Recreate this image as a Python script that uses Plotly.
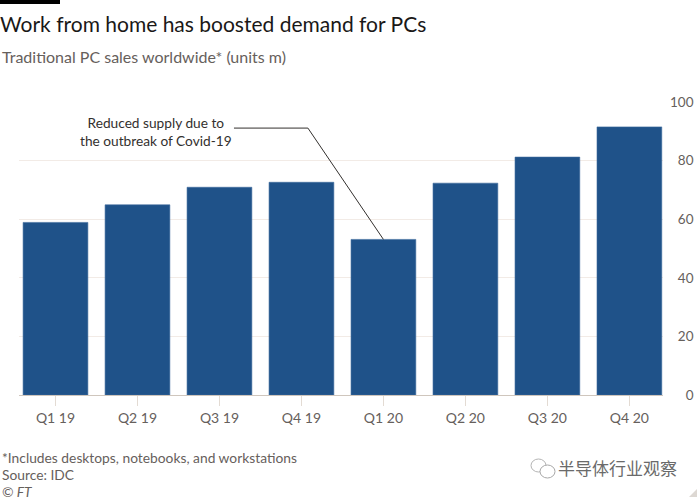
import plotly.graph_objects as go

quarters = ["Q1 19", "Q2 19", "Q3 19", "Q4 19", "Q1 20", "Q2 20", "Q3 20", "Q4 20"]
sales = [58.9, 64.9, 70.9, 72.6, 53.1, 72.3, 81.2, 91.5]
y_ticks = [0, 20, 40, 60, 80, 100]
y_tick_text = ["\u2007\u20070", "\u200720", "\u200740", "\u200760", "\u200780", "100"]

FONT = "Lato"
GREY = "#66605c"

L, R, T, B = 19, 37, 102, 105
PW, PH = 700 - L - R, 500 - T - B

def px_x(x):
    return (x - L) / PW

def px_y(y):
    return (500 - B - y) / PH

fig = go.Figure()
fig.add_trace(go.Bar(
    x=list(range(len(quarters))), y=sales,
    marker=dict(color="#1f5289", line=dict(color="#3d6a9c", width=0.6)),
    hoverinfo="skip",
))

fig.update_layout(
    width=700, height=500,
    margin=dict(l=L, r=R, t=T, b=B, autoexpand=False),
    paper_bgcolor="white", plot_bgcolor="white",
    showlegend=False,
    bargap=0.21,
    font=dict(family=FONT, color=GREY, size=13),
    title=dict(text="Work from home has boosted demand for PCs",
               x=0, xref="container", xanchor="left",
               y=1 - 25 / 500, yref="container", yanchor="middle",
               font=dict(family=FONT, size=21, color="#1a1817")),
    xaxis=dict(
        tickmode="array", tickvals=list(range(len(quarters))), ticktext=quarters,
        range=[-0.445, 7.41], showgrid=False, zeroline=False,
        showline=True, linecolor="#cfc6bd", linewidth=1,
        ticks="outside", ticklen=10, tickcolor="#e3dbd3",
        tickfont=dict(family=FONT, size=14, color=GREY),
    ),
    yaxis=dict(
        side="right", range=[0, 100],
        tickmode="array", tickvals=y_ticks, ticktext=y_tick_text,
        showgrid=True, gridcolor="#f2ebe6", gridwidth=1,
        zeroline=False, showline=False, ticks="",
        ticklabelstandoff=6,
        tickfont=dict(family=FONT, size=13.5, color=GREY),
    ),
)

# Subtitle
fig.add_annotation(text="Traditional PC sales worldwide* (units m)",
                   xref="paper", yref="paper", x=px_x(0), y=px_y(57),
                   xanchor="left", yanchor="middle", showarrow=False,
                   font=dict(family=FONT, size=16, color=GREY))

# Callout
fig.add_annotation(text="Reduced supply due to<br>the outbreak of Covid-19",
                   xref="x", yref="y", x=1.226, y=89.8,
                   xanchor="center", yanchor="middle", align="center",
                   showarrow=False,
                   font=dict(family=FONT, size=13.7, color="#33302e"))
fig.add_shape(type="path",
              path=f"M 2.177 91.1 L 3.079 91.1 L 4 {sales[4]}",
              xref="x", yref="y", line=dict(color="#33302e", width=1))

# Footer
footer = ["*Includes desktops, notebooks, and workstations", "Source: IDC", "<i>© FT</i>"]
for t, yy in zip(footer, [457, 474, 491]):
    fig.add_annotation(text=t, xref="paper", yref="paper", x=px_x(0), y=px_y(yy),
                       xanchor="left", yanchor="middle", showarrow=False,
                       font=dict(family=FONT, size=13.8, color=GREY))

# Watermark
fig.add_annotation(text="半导体行业观察", xref="paper", yref="paper",
                   x=px_x(679), y=px_y(467), xanchor="right", yanchor="middle",
                   showarrow=False,
                   font=dict(family="Noto Sans CJK SC", size=17, color="#6a6a6a"))
# watermark icon (two speech bubbles)
fig.add_shape(type="circle", xref="paper", yref="paper",
              x0=px_x(531), x1=px_x(546), y0=px_y(472), y1=px_y(459),
              line=dict(color="#b5b5b5", width=1), fillcolor="rgba(0,0,0,0)")
fig.add_shape(type="circle", xref="paper", yref="paper",
              x0=px_x(540), x1=px_x(555), y0=px_y(478), y1=px_y(465),
              line=dict(color="#a8a8a8", width=1), fillcolor="white")
fig.add_shape(type="path", xref="paper", yref="paper",
              path=f"M {px_x(689)} {px_y(497)} L {px_x(697)} {px_y(497)} L {px_x(697)} {px_y(489)} Z",
              line=dict(width=0), fillcolor="#ddd8d3")

# Top black bar
fig.add_shape(type="rect", xref="paper", yref="paper",
              x0=px_x(0), x1=px_x(60), y0=px_y(4), y1=px_y(0),
              fillcolor="black", line=dict(width=0))

fig.write_html("out.html", config={"displayModeBar": False},
               post_script="document.body.style.margin='0';")
